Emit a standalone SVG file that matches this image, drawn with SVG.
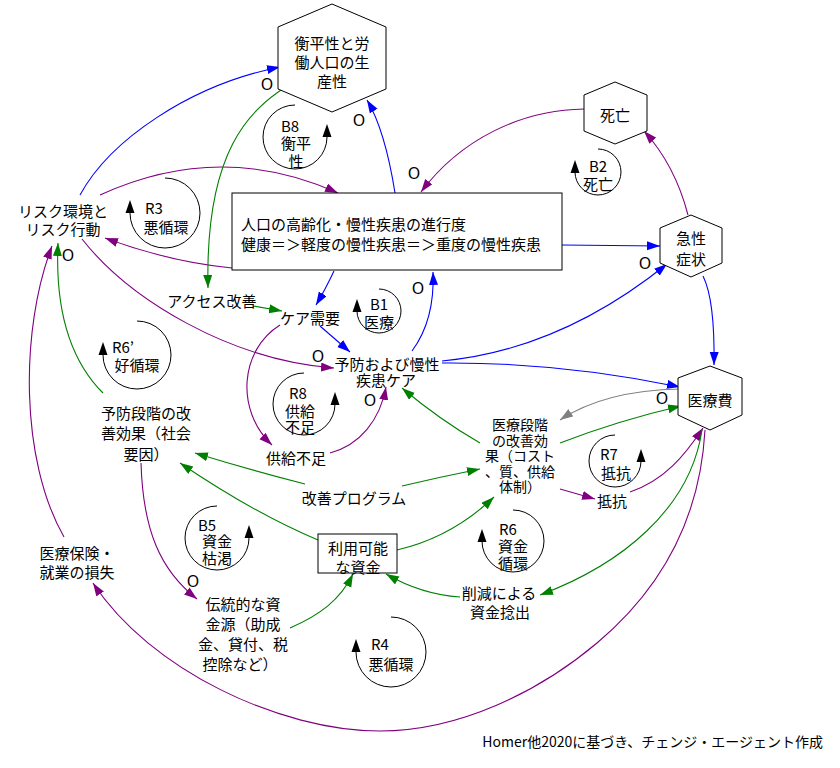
<svg xmlns="http://www.w3.org/2000/svg" width="840" height="768" viewBox="0 0 840 768">
<style>
.t{font-family:"Noto Sans CJK JP","Noto Sans",sans-serif;font-size:15px;text-anchor:middle;dominant-baseline:central;fill:#000}
.o{font-family:"Noto Sans","Liberation Sans",sans-serif;font-size:16px;text-anchor:middle;dominant-baseline:central;fill:#000}
.m{font-size:14px}
.shape{fill:#fff;stroke:#000;stroke-width:1}
.loop{fill:none;stroke:#000;stroke-width:1}
.b{fill:none;stroke:#0000ff;stroke-width:1.1;marker-end:url(#mb)}
.p{fill:none;stroke:#800080;stroke-width:1.1;marker-end:url(#mp)}
.g{fill:none;stroke:#008000;stroke-width:1.1;marker-end:url(#mg)}
.y{fill:none;stroke:#808080;stroke-width:1.1;marker-end:url(#my)}
</style>
<defs>
<marker id="mb" markerUnits="userSpaceOnUse" markerWidth="14" markerHeight="10" refX="13" refY="4.5" orient="auto"><path d="M0,0 L13,4.5 L0,9 z" fill="#0000ff"/></marker>
<marker id="mp" markerUnits="userSpaceOnUse" markerWidth="14" markerHeight="10" refX="13" refY="4.5" orient="auto"><path d="M0,0 L13,4.5 L0,9 z" fill="#800080"/></marker>
<marker id="mg" markerUnits="userSpaceOnUse" markerWidth="14" markerHeight="10" refX="13" refY="4.5" orient="auto"><path d="M0,0 L13,4.5 L0,9 z" fill="#008000"/></marker>
<marker id="my" markerUnits="userSpaceOnUse" markerWidth="14" markerHeight="10" refX="13" refY="4.5" orient="auto"><path d="M0,0 L13,4.5 L0,9 z" fill="#808080"/></marker>
</defs>
<rect width="840" height="768" fill="#fff"/>

<g id="connectors">
<path class="b" d="M80,195 C110,140 190,85 280,67"/>
<path class="b" d="M395,193 Q385,130 367,100"/>
<path class="b" stroke-width="1.4" d="M562,245 L660,246"/>
<path class="b" d="M442,361 Q560,350 667,264"/>
<path class="b" d="M442,363 Q560,362 680,387"/>
<path class="b" d="M703,276 Q715,300 714,365"/>
<path class="b" d="M334,271 Q325,290 316,305"/>
<path class="b" d="M320,326 L350,352"/>
<path class="b" d="M412,351 Q435,320 433,272"/>
<path class="p" d="M584,109 C520,110 460,140 421,192"/>
<path class="p" d="M688,215 Q675,165 644,131"/>
<path class="p" d="M100,195 Q220,140 338,193"/>
<path class="p" d="M232,268 Q170,262 105,238"/>
<path class="p" d="M82,239 C130,300 230,360 334,368"/>
<path class="p" d="M280,325 C240,350 235,410 272,445"/>
<path class="p" d="M330,453 C360,445 380,420 386,387"/>
<path class="p" d="M560,489 L595,499"/>
<path class="p" d="M630,492 C665,480 685,455 703,428"/>
<path class="p" d="M141,463 C143,530 160,570 197,599"/>
<path class="p" d="M705,430 C700,520 660,590 597,643 C540,691 460,731 380,731 C280,731 150,670 93,583"/>
<path class="p" d="M64,537 C20,460 20,330 52,246"/>
<path class="g" d="M287,86 C250,110 205,150 208,288"/>
<path class="g" d="M253,306 L282,311"/>
<path class="g" d="M103,393 C70,360 55,310 58,243"/>
<path class="g" d="M480,443 Q440,420 402,388"/>
<path class="g" d="M305,484 Q250,470 195,453"/>
<path class="g" d="M402,486 Q440,477 480,469"/>
<path class="g" d="M318,540 C270,520 220,490 180,463"/>
<path class="g" d="M397,550 C440,540 470,520 494,497"/>
<path class="g" d="M290,628 C320,615 340,600 353,574"/>
<path class="g" d="M460,597 C430,595 405,585 386,574"/>
<path class="g" d="M702,430 C690,510 620,565 540,595"/>
<path class="g" d="M560,443 Q620,420 681,406"/>
<path class="y" d="M680,389 C630,390 590,400 560,420"/>
</g>

<g id="polarity">
<text class="o" x="267" y="84">O</text>
<text class="o" x="359" y="120">O</text>
<text class="o" x="414" y="173">O</text>
<text class="o" x="68" y="255">O</text>
<text class="o" x="645" y="263">O</text>
<text class="o" x="318" y="356">O</text>
<text class="o" x="370" y="400">O</text>
<text class="o" x="418" y="288">O</text>
<text class="o" x="662" y="398">O</text>
<text class="o" x="193" y="581">O</text>
</g>

<g id="n-equity"><polygon class="shape" points="332,4 386,27 386,89 332,112 278,89 278,27"/>
<text class="t" x="332" y="42">衡平性と労</text><text class="t" x="332" y="61">働人口の生</text><text class="t" x="332" y="80">産性</text></g>
<g id="n-death"><polygon class="shape" points="615,82 647,95 647,131 615,144 584,131 584,95"/>
<text class="t" x="615" y="114">死亡</text></g>
<g id="n-acute"><polygon class="shape" points="691,215 722,228 722,263 691,277 660,263 660,228"/>
<text class="t" x="691" y="237">急性</text><text class="t" x="691" y="258">症状</text></g>
<g id="n-cost"><polygon class="shape" points="710,366 742,378 742,415 710,430 678,415 678,378"/>
<text class="t" x="710" y="399">医療費</text></g>
<g id="n-aging"><rect class="shape" x="232" y="193" width="330" height="77"/>
<text class="t" x="241" y="223" style="text-anchor:start">人口の高齢化・慢性疾患の進行度</text>
<text class="t" x="241" y="243" style="text-anchor:start">健康＝＞軽度の慢性疾患＝＞重度の慢性疾患</text></g>
<g id="n-funds"><rect class="shape" x="318" y="534" width="79" height="39"/>
<text class="t" x="358" y="547">利用可能</text><text class="t" x="358" y="566">な資金</text></g>
<g id="n-risk"><text class="t" x="63" y="210">リスク環境と</text><text class="t" x="63" y="228">リスク行動</text></g>
<g id="n-access"><text class="t" x="212" y="300">アクセス改善</text></g>
<g id="n-demand"><text class="t" x="310" y="317">ケア需要</text></g>
<g id="n-care"><text class="t" x="387" y="363">予防および慢性</text><text class="t" x="386" y="379">疾患ケア</text></g>
<g id="n-shortage"><text class="t" x="296" y="457">供給不足</text></g>
<g id="n-prevent"><text class="t" x="146" y="412">予防段階の改</text><text class="t" x="146" y="432">善効果（社会</text><text class="t" x="146" y="453">要因）</text></g>
<g id="n-program"><text class="t" x="354" y="497">改善プログラム</text></g>
<g id="n-medical"><text class="t m" x="520" y="424">医療段階</text><text class="t m" x="520" y="439.5">の改善効</text><text class="t m" x="520" y="455">果（コスト</text><text class="t m" x="520" y="470.5">、質、供給</text><text class="t m" x="520" y="486">体制）</text></g>
<g id="n-resist"><text class="t" x="612" y="500">抵抗</text></g>
<g id="n-cut"><text class="t" x="499" y="592">削減による</text><text class="t" x="500" y="611">資金捻出</text></g>
<g id="n-insurance"><text class="t" x="77" y="552">医療保険・</text><text class="t" x="77" y="571">就業の損失</text></g>
<g id="n-traditional"><text class="t" x="243" y="603">伝統的な資</text><text class="t" x="243" y="623">金源（助成</text><text class="t" x="243" y="643">金、貸付、税</text><text class="t" x="240" y="663">控除など）</text></g>

<g id="loops">
<path class="loop" d="M295,105 A32,32 0 1,0 327,137"/><polygon points="322.5,137 331.5,137 327,124"/>
<text class="t" x="290" y="125">B8</text><text class="t" x="296" y="142">衡平</text><text class="t" x="296" y="160">性</text>
<path class="loop" d="M165,178 A35,35 0 1,1 130,213"/><polygon points="125.5,213 134.5,213 130,200"/>
<text class="t" x="154" y="207">R3</text><text class="t" x="166" y="226">悪循環</text>
<path class="loop" d="M598,149 A23,23 0 1,1 575,172"/><polygon points="570.5,173 579.5,173 575,160"/>
<text class="t" x="598" y="165">B2</text><text class="t" x="598" y="183">死亡</text>
<path class="loop" d="M379,289 A22,22 0 1,1 357,311"/><polygon points="352.5,312 361.5,312 357,299"/>
<text class="t" x="379" y="303">B1</text><text class="t" x="379" y="321">医療</text>
<path class="loop" d="M137,321 A34,34 0 1,1 103,355"/><polygon points="98.5,355 107.5,355 103,342"/>
<text class="t" x="123" y="346">R6’</text><text class="t" x="137" y="364">好循環</text>
<path class="loop" d="M304,373 A31,31 0 1,0 335,404"/><polygon points="330.5,405 339.5,405 335,392"/>
<text class="t" x="298" y="392">R8</text><text class="t" x="300" y="410">供給</text><text class="t" x="300" y="426">不足</text>
<path class="loop" d="M615,435 A26,26 0 1,0 641,461"/><polygon points="636.5,462 645.5,462 641,449"/>
<text class="t" x="609" y="453">R7</text><text class="t" x="616" y="472">抵抗</text>
<path class="loop" d="M217,506 A32,32 0 1,0 249,538"/><polygon points="244.5,538 253.5,538 249,525"/>
<text class="t" x="207" y="524">B5</text><text class="t" x="217" y="540">資金</text><text class="t" x="217" y="557">枯渇</text>
<path class="loop" d="M513,510 A31,31 0 1,1 482,541"/><polygon points="477.5,542 486.5,542 482,529"/>
<text class="t" x="508" y="528">R6</text><text class="t" x="513" y="545">資金</text><text class="t" x="513" y="562">循環</text>
<path class="loop" d="M391,617 A35,35 0 1,1 356,652"/><polygon points="351.5,652 360.5,652 356,639"/>
<text class="t" x="380" y="643">R4</text><text class="t" x="391" y="663">悪循環</text>
</g>

<text class="t" x="823" y="741" style="text-anchor:end;font-size:14px">Homer他2020に基づき、チェンジ・エージェント作成</text>
</svg>
